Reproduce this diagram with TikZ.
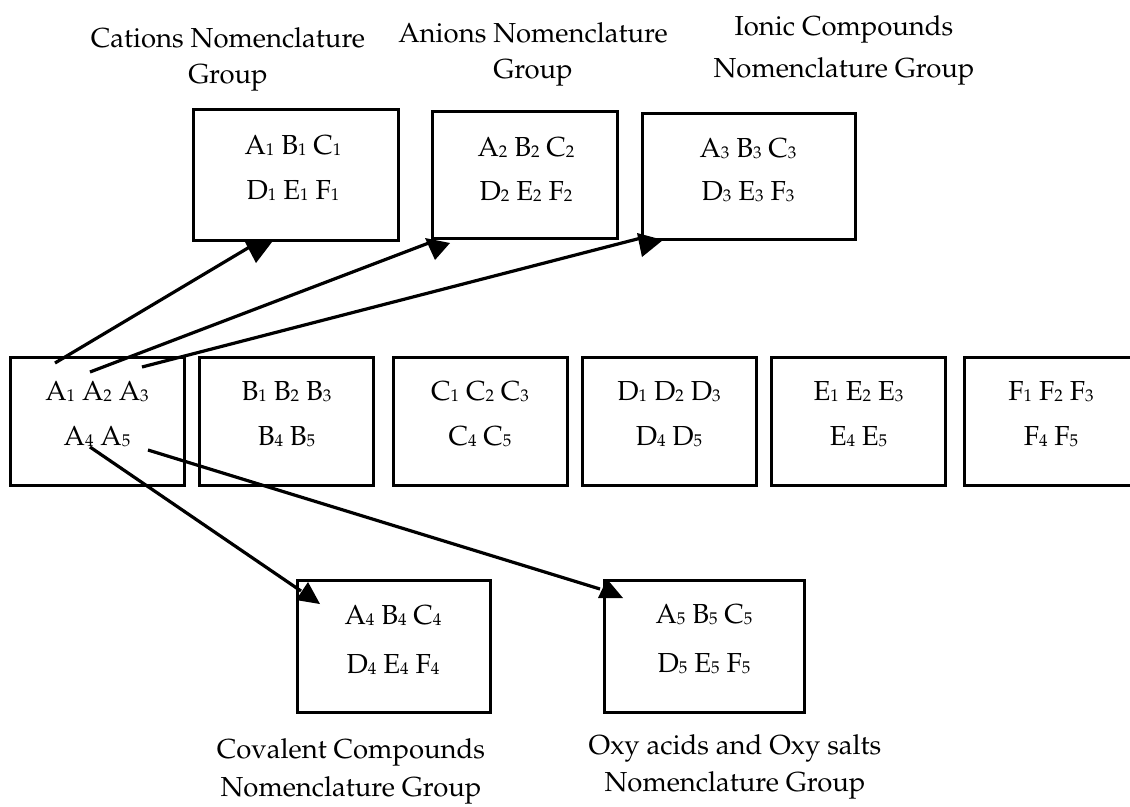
\documentclass[tikz,border=0pt]{standalone}
\usepackage[T1]{fontenc}
\usepackage{mathpazo}
\newcommand\ix[1]{\raisebox{-1.5pt}{\fontsize{17}{17}\selectfont #1}}
\begin{document}
\begin{tikzpicture}[x=1pt,y=-1pt,
  box/.style={draw=black,line width=3pt,fill=white,inner sep=0pt,rectangle},
  txt/.style={anchor=base,inner sep=0pt,font=\fontsize{27.5}{33}\selectfont},
  conn/.style={line width=3.2pt,line cap=butt},
  head/.style={fill=black}]
\useasboundingbox (0,0) rectangle (1130,806);
\clip (0,0) rectangle (1130,806);
% top labels
\node[txt] (catA) at (228,47) {Cations Nomenclature};
\node[txt] (catB) at (228,83) {Group};
\node[txt] (aniA) at (533,42) {Anions Nomenclature};
\node[txt] (aniB) at (533,78) {Group};
\node[txt] (ionA) at (844,35) {Ionic Compounds};
\node[txt] (ionB) at (844,77) {Nomenclature Group};
% top boxes
\node[box,minimum width=205,minimum height=131] (b1) at (295.5,174.5) {};
\node[box,minimum width=185,minimum height=127] (b2) at (524.5,175) {};
\node[box,minimum width=213,minimum height=126] (b3) at (748.5,176) {};
\node[txt] (b1a) at (293,154) {A\ix1 B\ix1 C\ix1};
\node[txt] (b1b) at (293,199) {D\ix1 E\ix1 F\ix1};
\node[txt] (b2a) at (526,156) {A\ix2 B\ix2 C\ix2};
\node[txt] (b2b) at (526,200) {D\ix2 E\ix2 F\ix2};
\node[txt] (b3a) at (748,157) {A\ix3 B\ix3 C\ix3};
\node[txt] (b3b) at (748,200) {D\ix3 E\ix3 F\ix3};
% middle row
\foreach \n/\cx in {A/97,B/286.5,C/480,D/669,E/858.5,F/1051}{
  \node[box,minimum width=174,minimum height=128] (m\n) at (\cx,421) {};
  \node[txt] (m\n a) at (\cx,400) {\n\ix1 \n\ix2 \n\ix3};
  \node[txt] (m\n b) at (\cx,445) {\n\ix4 \n\ix5};
}
% bottom boxes
\node[box,minimum width=193,minimum height=132] (b4) at (393.5,646.5) {};
\node[box,minimum width=200,minimum height=132] (b5) at (704,646.5) {};
\node[txt] (b4a) at (393,624) {A\ix4 B\ix4 C\ix4};
\node[txt] (b4b) at (393,673) {D\ix4 E\ix4 F\ix4};
\node[txt] (b5a) at (704,623) {A\ix5 B\ix5 C\ix5};
\node[txt] (b5b) at (704,672) {D\ix5 E\ix5 F\ix5};
% bottom labels
\node[txt] (covA) at (351,758) {Covalent Compounds};
\node[txt] (covB) at (351,796) {Nomenclature Group};
\node[txt] (oxyA) at (735,754) {Oxy acids and Oxy salts};
\node[txt] (oxyB) at (735,791) {Nomenclature Group};
% connector end points
\coordinate (s1) at (55,363);
\coordinate (s2) at (90,372);
\coordinate (s3) at (142,367);
\coordinate (s4) at (90,447);
\coordinate (s5) at (148,450);
\coordinate (e1) at (258,242);
\coordinate (e2) at (434,241);
\coordinate (e3) at (645,237);
\coordinate (e4) at (301,591);
\coordinate (e5) at (600,589);
\draw[conn] (s1) -- (e1);
\draw[conn] (s2) -- (e2);
\draw[conn] (s3) -- (e3);
\draw[conn] (s4) -- (e4);
\draw[conn] (s5) -- (e5);
\fill[head,shift={(e1)}] (-13,0) -- (14,0) -- (-2,21) -- cycle;
\fill[head,shift={(e2)}] (-9,-3) -- (16,2) -- (1,19) -- cycle;
\fill[head,shift={(e3)}] (-8,-4) -- (18,3) -- (-3,20) -- cycle;
\fill[head,shift={(e4)}] (-5,9) -- (19,13) -- (7,-9) -- cycle;
\fill[head,shift={(e5)}] (-2,9) -- (23,9) -- (7,-10) -- cycle;
\end{tikzpicture}
\end{document}
